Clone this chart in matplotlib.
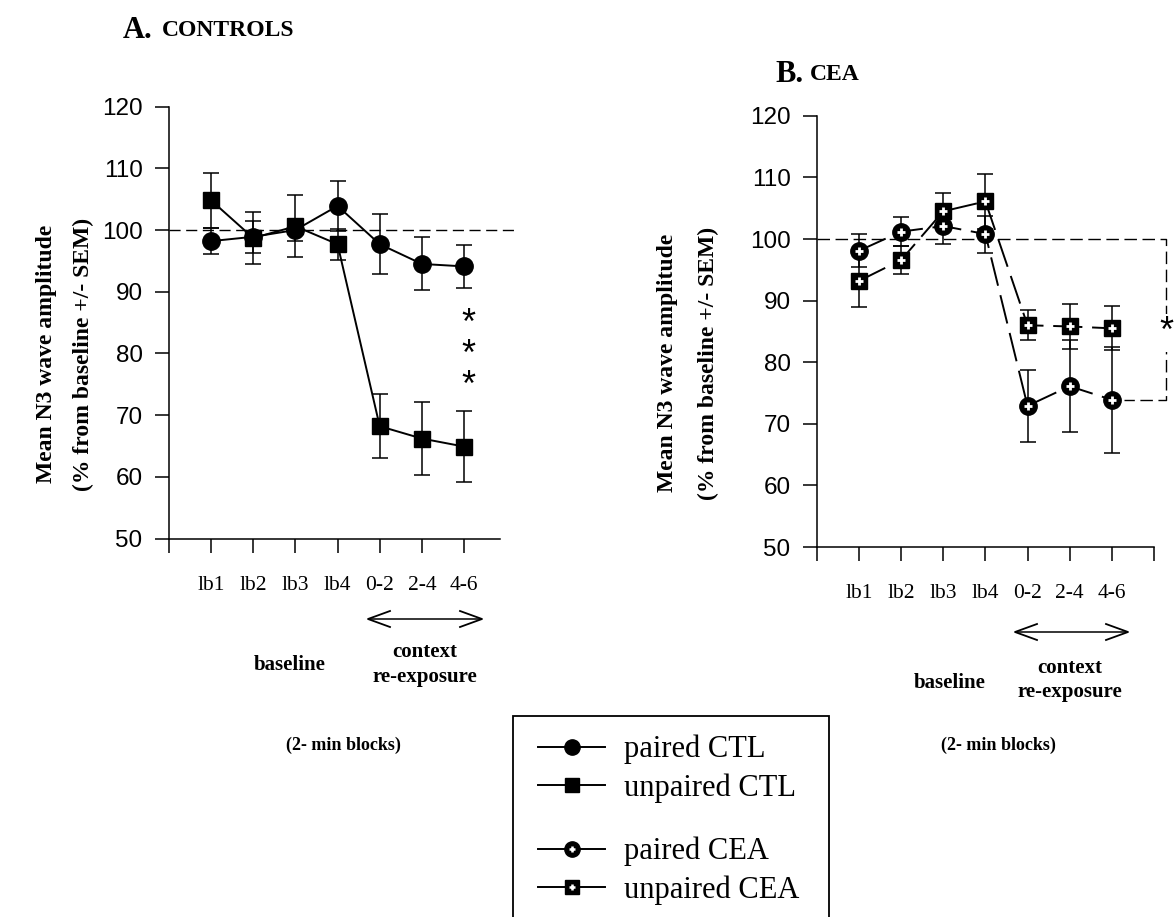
import matplotlib.pyplot as plt
from matplotlib.patches import Rectangle
from matplotlib.legend_handler import HandlerTuple

plt.rcParams['font.family'] = ['Liberation Serif', 'DejaVu Serif']

# blocks
blocks = [1, 2, 3, 4, 5, 6, 7]
block_labels = ["lb1", "lb2", "lb3", "lb4", "0-2", "2-4", "4-6"]

# A. controls
paired_ctl = [98.2, 98.9, 100.0, 103.9, 97.7, 94.5, 94.1]
paired_ctl_sem = [2.1, 2.6, 1.8, 4.0, 4.9, 4.3, 3.5]
unpaired_ctl = [104.8, 98.7, 100.6, 97.7, 68.2, 66.2, 64.9]
unpaired_ctl_sem = [4.5, 4.2, 5.0, 2.5, 5.2, 5.9, 5.7]

# B. CEA
paired_cea = [98.1, 101.2, 102.1, 100.8, 72.9, 76.1, 73.9]
paired_cea_sem = [2.7, 2.3, 2.9, 3.0, 5.9, 7.5, 8.6]
unpaired_cea = [93.2, 96.6, 104.5, 106.1, 86.0, 85.8, 85.5]
unpaired_cea_sem = [4.3, 2.3, 2.9, 4.4, 2.4, 3.6, 3.6]

W, H = 1175, 917
fig = plt.figure(figsize=(W / 100, H / 100), dpi=100)

def fx(px):
    return px / W

def fy(py):
    return 1 - py / H

axA = fig.add_axes([fx(169), fy(538.5), 7.85 * 42.14 / W, (538.5 - 106.6) / H])
axB = fig.add_axes([fx(817), fy(547), 8 * 42.1 / W, (547 - 115.8) / H])

err_kw = dict(ecolor='black', elinewidth=1.1, capsize=6, capthick=1.1)

# panel A: solid lines
axA.errorbar(blocks, unpaired_ctl, yerr=unpaired_ctl_sem, color='black', lw=1.4,
             marker='s', ms=11, zorder=3, **err_kw)
axA.errorbar(blocks, paired_ctl, yerr=paired_ctl_sem, color='black', lw=1.4,
             marker='o', ms=12.5, zorder=3, **err_kw)

# panel B: long dashes, white cross in markers
dash = (15, 5)
axB.errorbar(blocks, unpaired_cea, yerr=unpaired_cea_sem, color='black', lw=1.4,
             marker='s', ms=11.5, dashes=dash, zorder=3, **err_kw)
axB.errorbar(blocks, paired_cea, yerr=paired_cea_sem, color='black', lw=1.4,
             marker='o', ms=12.5, dashes=dash, zorder=3, **err_kw)
axB.plot(blocks, unpaired_cea, ls='none', marker='+', color='white', ms=6, mew=2, zorder=4)
axB.plot(blocks, paired_cea, ls='none', marker='+', color='white', ms=6, mew=2, zorder=4)

for ax in (axA, axB):
    ax.set_ylim(50, 120)
    ax.set_yticks(range(50, 121, 10))
    ax.spines['top'].set_visible(False)
    ax.spines['right'].set_visible(False)
    ax.spines['left'].set_linewidth(1.1)
    ax.spines['bottom'].set_linewidth(1.1)
    ax.tick_params(axis='both', direction='out', length=10, width=1.1)
    ax.tick_params(axis='y', pad=9, labelsize=17.5)
    ax.tick_params(axis='x', pad=17, labelsize=15.5)
    ax.set_facecolor('none')

axA.set_xlim(0, 7.85)
axA.set_xticks(range(0, 8))
axA.set_xticklabels([""] + block_labels)
axB.set_xlim(0, 8)
axB.set_xticks(range(0, 9))
axB.set_xticklabels([""] + block_labels + [""])
for ax in (axA, axB):
    for t in ax.get_yticklabels():
        t.set_family(['Liberation Sans', 'DejaVu Sans'])

# 100 % reference lines
axA.plot([0, 8.2], [100, 100], color='black', lw=1, dashes=(8, 4), clip_on=False, zorder=1)
axB.plot([0, 8.3, 8.3, 7.3], [100, 100, paired_cea[-1], paired_cea[-1]], color='black',
         lw=1, dashes=(9, 4), clip_on=False, zorder=1)

# significance
axA.text(7.1, 79.6, "*\n*\n*", fontsize=26, ha='center', va='center', linespacing=0.85,
         family=['Liberation Sans', 'DejaVu Sans'])
axB.text(8.3, 84.8, "*", fontsize=26, ha='center', va='center',
         family=['Liberation Sans', 'DejaVu Sans'],
         bbox=dict(facecolor='white', edgecolor='none', pad=1), clip_on=False)

# titles
fig.text(fx(123), fy(30), "A.", fontsize=22, fontweight='bold', va='center')
fig.text(fx(162), fy(31), "CONTROLS", fontsize=17, fontweight='bold', va='center')
fig.text(fx(775), fy(74), "B.", fontsize=22, fontweight='bold', va='center')
fig.text(fx(810), fy(75), "CEA", fontsize=17, fontweight='bold', va='center')

# y labels
for x1, x2, yc in ((47, 83, 354), (668, 708, 363)):
    fig.text(fx(x1), fy(yc), "Mean N3 wave amplitude", rotation=90, fontsize=17,
             fontweight='bold', ha='center', va='center')
    fig.text(fx(x2), fy(yc), "(% from baseline +/- SEM)", rotation=90, fontsize=17,
             fontweight='bold', ha='center', va='center')

# phase annotations
for bx, by, cx, cy1, cy2, ax0, ax1, ay, mx in (
        (290, 665, 425, 652, 677, 368, 482, 619, 343),
        (950, 683, 1070, 668, 692, 1015, 1128, 632, 998)):
    fig.text(fx(bx), fy(by), "baseline", fontsize=15, fontweight='bold', ha='center', va='center')
    fig.text(fx(cx), fy(cy1), "context", fontsize=15, fontweight='bold', ha='center', va='center')
    fig.text(fx(cx), fy(cy2), "re-exposure", fontsize=15, fontweight='bold', ha='center', va='center')
    fig.text(fx(mx), fy(745), "(2- min blocks)", fontsize=13, fontweight='bold', ha='center', va='center')
    fig.add_artist(plt.Line2D([fx(ax0 + 2), fx(ax1 - 2)], [fy(ay), fy(ay)], color='black', lw=1.1))
    fig.add_artist(plt.Line2D([fx(ax0 + 22), fx(ax0), fx(ax0 + 22)], [fy(ay - 8), fy(ay), fy(ay + 8)],
                              color='black', lw=1.3))
    fig.add_artist(plt.Line2D([fx(ax1 - 22), fx(ax1), fx(ax1 - 22)], [fy(ay - 8), fy(ay), fy(ay + 8)],
                              color='black', lw=1.3))

# legend box (open at the bottom edge)
fig.add_artist(Rectangle((fx(513), fy(940)), fx(829) - fx(513), fy(716) - fy(940),
                         transform=fig.transFigure, fill=False, edgecolor='black', lw=1.3))

h_pc = plt.Line2D([], [], color='black', lw=1.4, marker='o', ms=11)
h_uc = plt.Line2D([], [], color='black', lw=1.4, marker='s', ms=9.5)
h_pe = plt.Line2D([], [], color='black', lw=1.4, marker='o', ms=11)
h_ue = plt.Line2D([], [], color='black', lw=1.4, marker='s', ms=9.5)
h_x = plt.Line2D([], [], ls='none', marker='+', color='white', ms=5, mew=1.8)

leg_kw = dict(frameon=False, fontsize=22, handlelength=2.2, handletextpad=0.6,
              labelspacing=0.28, borderpad=0, borderaxespad=0, loc='upper left')
leg1 = fig.legend([h_pc, h_uc], ["paired CTL", "unpaired CTL"],
                  bbox_to_anchor=(fx(538), fy(735)), **leg_kw)
leg2 = fig.legend([(h_pe, h_x), (h_ue, h_x)], ["paired CEA", "unpaired CEA"],
                  bbox_to_anchor=(fx(538), fy(837)),
                  handler_map={tuple: HandlerTuple(ndivide=1, pad=0)}, **leg_kw)

fig.savefig("out.png", dpi=100)
